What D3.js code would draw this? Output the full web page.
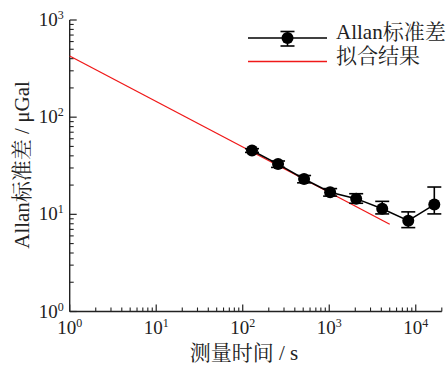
<!DOCTYPE html>
<html>
<head>
<meta charset="utf-8">
<script src="https://cdn.jsdelivr.net/npm/d3@7"></script>
<style>
  html, body { margin: 0; padding: 0; background: #fff; }
  svg { display: block; }
  text { font-family: "Liberation Serif", "Noto Serif CJK SC", "Noto Sans CJK SC", serif; fill: #222; }
</style>
</head>
<body>
<svg id="chart" width="446" height="369"></svg>
<script>
// Allan deviation of gravity measurements vs. averaging time
const tau      = [128, 256, 512, 1024, 2048, 4096, 8192, 16384];      // s
const adev     = [45.4, 32.9, 23.1, 16.9, 14.5, 11.4, 8.6, 12.6];     // μGal
const errUp    = [2.0, 2.5, 2.0, 1.5, 1.8, 2.2, 2.0, 6.5];
const errDown  = [2.0, 2.5, 2.0, 1.5, 1.5, 1.3, 1.3, 2.5];

// fitted power-law line (straight in log-log), endpoints
const fitTau   = [1, 5000];
const fitSigma = [426, 7.9];

const xDomain = [1, 20000];
const yDomain = [1, 1000];
const xMajor = [1, 10, 100, 1000, 10000];
const yMajor = [1, 10, 100, 1000];

const legendLabels = ["Allan标准差", "拟合结果"];
const xTitle = "测量时间 / s";
const yTitle = "Allan标准差 / μGal";

const svg = d3.select("#chart");
const L = 69.7, R = 441.8, T = 20, B = 311.5;

const x = d3.scaleLog().domain(xDomain).range([L, R]);
const y = d3.scaleLog().domain(yDomain).range([B, T]);

const axisColor = "#222";

// minor tick values (2..9 per decade)
function minors(domain) {
  const out = [];
  for (let e = Math.floor(Math.log10(domain[0])); e <= Math.ceil(Math.log10(domain[1])); e++) {
    for (let m = 2; m <= 9; m++) {
      const v = m * Math.pow(10, e);
      if (v > domain[0] && v <= domain[1]) out.push(v);
    }
  }
  return out;
}

// x axis (ticks point inward)
const gx = svg.append("g").attr("transform", `translate(0,${B})`);
gx.append("line").attr("x1", L).attr("x2", R).attr("stroke", axisColor).attr("stroke-width", 1.4);
gx.selectAll("line.maj").data(xMajor).join("line").attr("class", "maj")
  .attr("x1", d => x(d)).attr("x2", d => x(d)).attr("y1", 0).attr("y2", -7)
  .attr("stroke", axisColor).attr("stroke-width", 1.2);
gx.selectAll("line.min").data(minors(xDomain)).join("line").attr("class", "min")
  .attr("x1", d => x(d)).attr("x2", d => x(d)).attr("y1", 0).attr("y2", -4)
  .attr("stroke", axisColor).attr("stroke-width", 1.1);

const xl = gx.selectAll("text").data(xMajor).join("text")
  .attr("x", d => x(d)).attr("y", 22).attr("text-anchor", "middle").attr("font-size", 19);
xl.append("tspan").text("10");
xl.append("tspan").attr("dy", -7).attr("font-size", 12).text(d => Math.round(Math.log10(d)));

// y axis
const gy = svg.append("g").attr("transform", `translate(${L},0)`);
gy.append("line").attr("y1", T).attr("y2", B).attr("stroke", axisColor).attr("stroke-width", 1.4);
gy.selectAll("line.maj").data(yMajor).join("line").attr("class", "maj")
  .attr("y1", d => y(d)).attr("y2", d => y(d)).attr("x1", 0).attr("x2", 7)
  .attr("stroke", axisColor).attr("stroke-width", 1.2);
gy.selectAll("line.min").data(minors(yDomain)).join("line").attr("class", "min")
  .attr("y1", d => y(d)).attr("y2", d => y(d)).attr("x1", 0).attr("x2", 4)
  .attr("stroke", axisColor).attr("stroke-width", 1.1);

const yl = gy.selectAll("text").data(yMajor).join("text")
  .attr("x", -6).attr("y", d => y(d) + 6).attr("text-anchor", "end").attr("font-size", 19);
yl.append("tspan").text("10");
yl.append("tspan").attr("dy", -7).attr("font-size", 12).text(d => Math.round(Math.log10(d)));

// axis titles
svg.append("text").attr("x", 244).attr("y", 360).attr("text-anchor", "middle")
  .attr("font-size", 21).text(xTitle);
svg.append("text").attr("transform", "translate(29,165) rotate(-90)")
  .attr("text-anchor", "middle").attr("font-size", 21).text(yTitle);

// fit line
svg.append("line")
  .attr("x1", x(fitTau[0])).attr("y1", y(fitSigma[0]))
  .attr("x2", x(fitTau[1])).attr("y2", y(fitSigma[1]))
  .attr("stroke", "#f01818").attr("stroke-width", 1.3);

// data line
const pts = tau.map((t, i) => ({ t, v: adev[i], up: errUp[i], dn: errDown[i] }));
svg.append("path").datum(pts)
  .attr("d", d3.line().x(d => x(d.t)).y(d => y(d.v)))
  .attr("fill", "none").attr("stroke", "#000").attr("stroke-width", 1.5);

// error bars
const capW = 7;
const eb = svg.append("g").attr("stroke", "#000").attr("stroke-width", 1.6);
eb.selectAll("line.v").data(pts).join("line").attr("class", "v")
  .attr("x1", d => x(d.t)).attr("x2", d => x(d.t))
  .attr("y1", d => y(d.v + d.up)).attr("y2", d => y(d.v - d.dn));
eb.selectAll("line.t").data(pts).join("line").attr("class", "t")
  .attr("x1", d => x(d.t) - capW).attr("x2", d => x(d.t) + capW)
  .attr("y1", d => y(d.v + d.up)).attr("y2", d => y(d.v + d.up));
eb.selectAll("line.b").data(pts).join("line").attr("class", "b")
  .attr("x1", d => x(d.t) - capW).attr("x2", d => x(d.t) + capW)
  .attr("y1", d => y(d.v - d.dn)).attr("y2", d => y(d.v - d.dn));

// markers
svg.selectAll("circle.pt").data(pts).join("circle").attr("class", "pt")
  .attr("cx", d => x(d.t)).attr("cy", d => y(d.v)).attr("r", 6).attr("fill", "#000");

// legend
const lg = svg.append("g");
lg.append("line").attr("x1", 248).attr("x2", 327).attr("y1", 38).attr("y2", 38)
  .attr("stroke", "#000").attr("stroke-width", 1.5);
lg.append("line").attr("x1", 287.5).attr("x2", 287.5).attr("y1", 31.5).attr("y2", 46)
  .attr("stroke", "#000").attr("stroke-width", 1.6);
lg.append("line").attr("x1", 280.5).attr("x2", 294.5).attr("y1", 31.5).attr("y2", 31.5)
  .attr("stroke", "#000").attr("stroke-width", 1.6);
lg.append("line").attr("x1", 280.5).attr("x2", 294.5).attr("y1", 46).attr("y2", 46)
  .attr("stroke", "#000").attr("stroke-width", 1.6);
lg.append("circle").attr("cx", 287.5).attr("cy", 38).attr("r", 6).attr("fill", "#000");
lg.append("line").attr("x1", 248).attr("x2", 327).attr("y1", 61.5).attr("y2", 61.5)
  .attr("stroke", "#f01818").attr("stroke-width", 1.3);
lg.selectAll("text").data(legendLabels).join("text")
  .attr("x", 336).attr("y", (d, i) => 39 + i * 23.5).attr("font-size", 21).text(d => d);
</script>
</body>
</html>
